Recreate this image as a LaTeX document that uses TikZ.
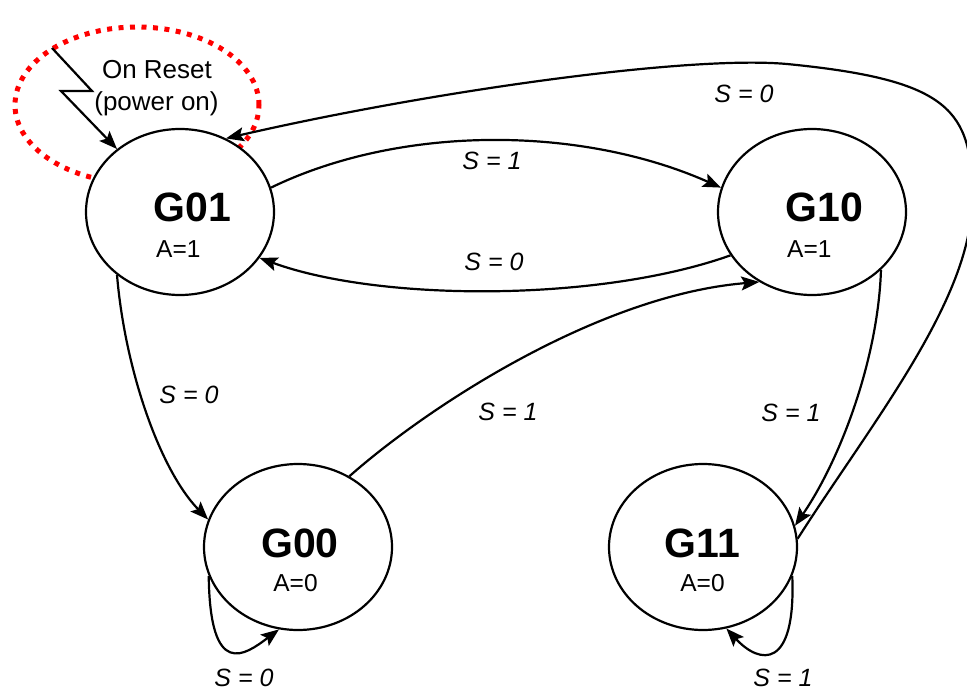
\documentclass[tikz,border=0pt]{standalone}
\usepackage{fontspec}
\setmainfont{Liberation Sans}
\usetikzlibrary{arrows.meta,shapes.geometric}
\begin{document}
\begin{tikzpicture}[x=1pt,y=-1pt,
  statenode/.style={ellipse,draw,line width=2.2pt,fill=white,minimum width=188pt,minimum height=166pt,inner sep=0pt},
  conn/.style={line width=2.2pt,-{Stealth[length=18pt,width=14pt,inset=3.5pt]}},
  lbl/.style={font=\fontsize{25}{30}\selectfont\itshape,inner sep=0pt,anchor=base},
  sname/.style={font=\fontsize{41}{48}\selectfont\bfseries,inner sep=0pt},
  aval/.style={font=\fontsize{24.5}{28}\selectfont,inner sep=0pt},
  resettxt/.style={font=\fontsize{26}{30}\selectfont,inner sep=0pt,anchor=base},
  resetring/.style={draw=red,line width=5pt,dash pattern=on 5pt off 6.5pt}
]
\useasboundingbox (0,0) rectangle (967,690);
\clip (0,0) rectangle (967,690);

% red dotted reset ring
\draw[resetring] (137,105) ellipse [x radius=122pt, y radius=78pt];

% states
\node[statenode] (G01) at (180,212) {};
\node[statenode] (G10) at (812,212) {};
\node[statenode] (G00) at (298,547) {};
\node[statenode] (G11) at (703,547) {};

% state texts
\node[sname,anchor=base west] (t01) at (153.5,222) {G01};
\node[aval,anchor=base west] (a01) at (156,257) {A=1};
\node[sname,anchor=base west] (t10) at (785.5,222) {G10};
\node[aval,anchor=base west] (a10) at (787,257) {A=1};
\node[sname,anchor=base] (t00) at (300,557) {G00};
\node[aval,anchor=base] (a00) at (295.5,591.5) {A=0};
\node[sname,anchor=base] (t11) at (702.5,557) {G11};
\node[aval,anchor=base] (a11) at (702.5,591.5) {A=0};

% reset
\node[resettxt] (r1) at (157,79) {On Reset};
\node[resettxt] (r2) at (156.5,111) {(power on)};
\coordinate (rs) at (52,48);
\draw[conn] (rs) -- (92,91) -- (61,91) -- (G01.135);

% transitions
\draw[conn] (G01.15) .. controls (400,125) and (580,125) .. (G10.165);
\draw[conn] (G10.208) .. controls (600,302) and (380,302) .. (G01.330);
\draw[conn] (G01.225) .. controls (125,370) and (160,470) .. (G00.163);
\draw[conn] (G00.54) .. controls (430,405) and (600,295) .. (G10.233);
\draw[conn] (G10.320) .. controls (878,360) and (840,460) .. (G11.13);
\draw[conn] (G11.5) .. controls (870,425) and (972,300) .. (972,200)
   .. controls (973,110) and (950,80) .. (787,64)
   .. controls (687,55) and (427,92) .. (G01.58);
\draw[conn] (G00.198) .. controls (210,680) and (245,655) .. (G00.257);
\draw[conn] (G11.342) .. controls (796,670) and (760,665) .. (G11.286);

% labels
\node[lbl] (l1) at (492,170) {S = 1};
\node[lbl] (l2) at (494,270) {S = 0};
\node[lbl] (l3) at (189,403) {S = 0};
\node[lbl] (l4) at (508,420) {S = 1};
\node[lbl] (l5) at (791,421) {S = 1};
\node[lbl] (l6) at (744,103) {S = 0};
\node[lbl] (l7) at (244,686) {S = 0};
\node[lbl] (l8) at (783,686) {S = 1};
\end{tikzpicture}
\end{document}
